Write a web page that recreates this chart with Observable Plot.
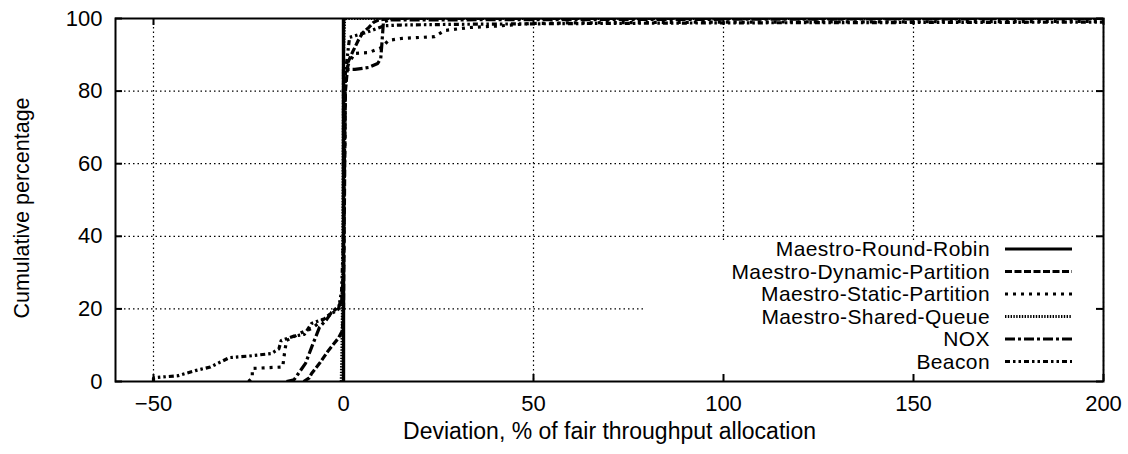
<!DOCTYPE html>
<html><head><meta charset="utf-8">
<script src="https://cdn.jsdelivr.net/npm/d3@7"></script>
<script src="https://cdn.jsdelivr.net/npm/@observablehq/plot@0.6"></script>
<style>body{margin:0;background:#fff;}</style>
</head><body><div id="chart"></div>
<script>
// ---- data ----
const seriesNames = ["Maestro-Round-Robin","Maestro-Dynamic-Partition","Maestro-Static-Partition","Maestro-Shared-Queue","NOX","Beacon"];
const xTicks = [-50, 0, 50, 100, 150, 200];
const yTicks = [0, 20, 40, 60, 80, 100];

const roundRobinX = [0, 0];
const roundRobinY = [0, 100];

const dynamicX = [-10.5, -9, -8.4, -6.3, -4, -1.3, -0.3, 0, 0.5, 1.2, 2.5, 3.9, 5, 6.6, 8, 9.2, 12, 200];
const dynamicY = [0, 1, 2.2, 5, 8.5, 12, 14, 20, 80, 88, 91, 94, 96, 97.5, 99, 99.6, 100, 100];

const staticX = [-25, -24, -24, -20, -16, -15.5, -15, -13.7, -11, -8.4, -6, -3, -1, -0.3, 0, 0.5, 1.5, 3, 6.6, 10, 11.9, 15.3, 24, 26.6, 33, 41.7, 48.8, 60, 100, 200];
const staticY = [0, 1, 3.6, 3.8, 4, 8, 11.3, 12, 13.5, 14.6, 16.5, 19, 21, 24, 30, 85, 88, 90.4, 90.6, 92, 94, 94.5, 95, 96.7, 97.5, 98, 98.6, 98.8, 99, 99.2];

const sharedX = [-0.6, -0.4, -0.2, 0, 0.3, 200];
const sharedY = [0, 10, 30, 90, 100, 100];

const noxX = [-15, -13, -12, -10, -8.4, -6.3, -4.5, -3.2, -1.5, -0.5, 0, 0, 3, 6.6, 9, 9.8, 10.1, 10.3, 10.5, 12, 200];
const noxY = [0, 0.5, 2, 5, 9.4, 15, 17, 19, 20.5, 22, 30, 86, 86, 86.5, 87.6, 89, 93, 96, 99, 99.6, 100];

const beaconX = [-50, -50, -48, -43.5, -39, -35, -30, -25, -19, -17, -16.4, -13, -10.3, -8.4, -5, -1.3, -0.5, 0, 0.5, 1.6, 5.5, 10.8, 15, 30, 60, 100, 200];
const beaconY = [0, 1, 1.2, 1.6, 3, 4, 6.6, 7, 7.7, 9, 11.3, 12.5, 13, 16, 17.3, 20, 25, 40, 85, 94.8, 96, 98, 98.2, 98.4, 98.6, 98.8, 99];

// ---- styles ----
const styles = [
  {w: 3.4, dash: null},
  {w: 3.2, dash: "7,2.5"},
  {w: 3.2, dash: "3,5"},
  {w: 3, dash: "1.4,1.4"},
  {w: 3.2, dash: "10,3,3,3"},
  {w: 3.2, dash: "5,3,2.5,3,2.5,3"}
];
const xs = [roundRobinX, dynamicX, staticX, sharedX, noxX, beaconX];
const ys = [roundRobinY, dynamicY, staticY, sharedY, noxY, beaconY];

const W = 1128, H = 454, mL = 115, mT = 18, mR = 25, mB = 73;
const plotW = W - mL - mR, plotH = H - mT - mB;
const font = "'Liberation Sans', Arial, Helvetica, sans-serif";

const legendMark = () => {
  const g = d3.create("svg:g");
  g.append("rect").attr("x", 645).attr("y", 240).attr("width", 456).attr("height", 139).attr("fill", "white");
  seriesNames.forEach((name, i) => {
    const cy = 249 + i * 22.5;
    g.append("text").attr("x", 990).attr("y", cy).attr("dy", "0.35em")
      .attr("text-anchor", "end").attr("font-size", 21).attr("letter-spacing", "0.4px")
      .attr("font-family", font).attr("fill", "black").text(name);
    const ln = g.append("line").attr("x1", 1005).attr("x2", 1072).attr("y1", cy).attr("y2", cy)
      .attr("stroke", "black").attr("stroke-width", 3);
    if (styles[i].dash) ln.attr("stroke-dasharray", styles[i].dash);
  });
  return g.node();
};

const marks = [
  Plot.gridX(xTicks, {stroke: "black", strokeOpacity: 1, strokeWidth: 1.2, strokeDasharray: "1.5,3"}),
  Plot.gridY(yTicks, {stroke: "black", strokeOpacity: 1, strokeWidth: 1.2, strokeDasharray: "1.5,3"}),
  legendMark
];
seriesNames.forEach((name, i) => {
  const rows = xs[i].map((x, j) => ({series: name, x, y: ys[i][j]}));
  marks.push(Plot.line(rows, {x: "x", y: "y", stroke: "black", strokeWidth: styles[i].w,
    strokeLinecap: "butt", strokeLinejoin: "miter",
    strokeDasharray: styles[i].dash ?? undefined, clip: true}));
});
marks.push(
  Plot.frame({stroke: "black", strokeWidth: 2}),
  Plot.tickX(xTicks, {x: d => d, insetTop: plotH - 7, stroke: "black", strokeWidth: 2}),
  Plot.tickX(xTicks, {x: d => d, insetBottom: plotH - 7, stroke: "black", strokeWidth: 2}),
  Plot.tickY(yTicks, {y: d => d, insetRight: plotW - 7, stroke: "black", strokeWidth: 2}),
  Plot.tickY(yTicks, {y: d => d, insetLeft: plotW - 7, stroke: "black", strokeWidth: 2}),
  Plot.axisX(xTicks, {tickSize: 0, tickPadding: 14, label: null, fontSize: 22}),
  Plot.axisY(yTicks, {tickSize: 0, tickPadding: 13, label: null, fontSize: 22}),
  Plot.text(["Deviation, % of fair throughput allocation"], {frameAnchor: "bottom", dy: 57, text: d => d, fontSize: 23}),
  Plot.text(["Cumulative percentage"], {frameAnchor: "left", textAnchor: "middle", dx: -93, dy: 8, rotate: -90, text: d => d, fontSize: 21.5})
);

const chart = Plot.plot({
  width: W, height: H,
  marginLeft: mL, marginTop: mT, marginRight: mR, marginBottom: mB,
  x: {domain: [-60, 200]},
  y: {domain: [0, 100]},
  style: {fontFamily: font, fontSize: "22px", background: "white", color: "black"},
  marks
});
document.getElementById("chart").appendChild(chart);
</script>
</body></html>
